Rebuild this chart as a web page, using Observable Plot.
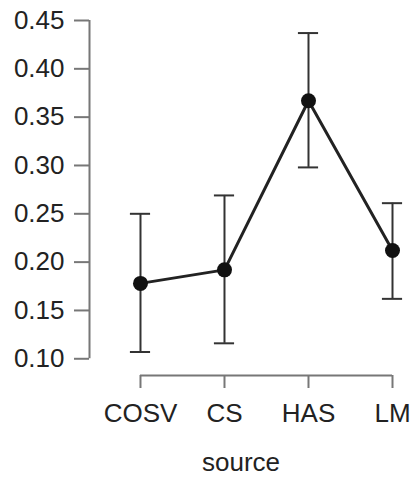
<!DOCTYPE html>
<html>
<head>
<meta charset="utf-8">
<script src="https://cdn.jsdelivr.net/npm/d3@7"></script>
<script src="https://cdn.jsdelivr.net/npm/@observablehq/plot@0.6"></script>
<style>
  html, body { margin: 0; padding: 0; background: #fff; }
  #chart svg { display: block; }
</style>
</head>
<body>
<div id="chart"></div>
<script>
const sources = ["COSV", "CS", "HAS", "LM"];
const means = [0.178, 0.192, 0.367, 0.212];
const lowers = [0.107, 0.116, 0.298, 0.162];
const uppers = [0.250, 0.269, 0.437, 0.261];
const yTicks = [0.10, 0.15, 0.20, 0.25, 0.30, 0.35, 0.40, 0.45];

const data = sources.map((s, i) => ({
  i: i + 1, source: s, mean: means[i], lo: lowers[i], hi: uppers[i]
}));

const xDomain = [0.393, sources.length];
const yDomain = [0.0827, 0.45];
const capHalf = 0.12;
const ink = "#222";
const axisColor = "#777";

const chart = Plot.plot({
  width: 412,
  height: 477,
  marginLeft: 89,
  marginRight: 20,
  marginTop: 20,
  marginBottom: 102,
  style: { fontFamily: "'Liberation Sans', Arial, Helvetica, sans-serif", fontSize: "26px", color: "#222", background: "#fff" },
  x: { type: "linear", domain: xDomain },
  y: { type: "linear", domain: yDomain },
  marks: [
    Plot.axisY({ ticks: yTicks, tickFormat: d => d.toFixed(2), tickSize: 15, tickPadding: 10, stroke: axisColor, strokeWidth: 2, label: null, fontSize: 26 }),
    Plot.axisX({ ticks: data.map(d => d.i), tickFormat: d => sources[d - 1], tickSize: 13, tickPadding: 15, stroke: axisColor, strokeWidth: 2, label: "source", labelAnchor: "center", labelArrow: "none", labelOffset: 95, fontSize: 26 }),
    Plot.ruleX([xDomain[0]], { y1: yTicks[0], y2: yTicks[yTicks.length - 1], stroke: axisColor, strokeWidth: 2 }),
    Plot.ruleY([yDomain[0]], { x1: 1, x2: sources.length, stroke: axisColor, strokeWidth: 2 }),
    Plot.ruleX(data, { x: "i", y1: "lo", y2: "hi", stroke: "#333", strokeWidth: 2 }),
    Plot.ruleY(data, { y: "lo", x1: d => d.i - capHalf, x2: d => d.i + capHalf, stroke: "#333", strokeWidth: 2 }),
    Plot.ruleY(data, { y: "hi", x1: d => d.i - capHalf, x2: d => d.i + capHalf, stroke: "#333", strokeWidth: 2 }),
    Plot.line(data, { x: "i", y: "mean", stroke: ink, strokeWidth: 3 }),
    Plot.dot(data, { x: "i", y: "mean", r: 7.5, fill: "#111", stroke: "none" })
  ]
});
document.getElementById("chart").appendChild(chart);
</script>
</body>
</html>
